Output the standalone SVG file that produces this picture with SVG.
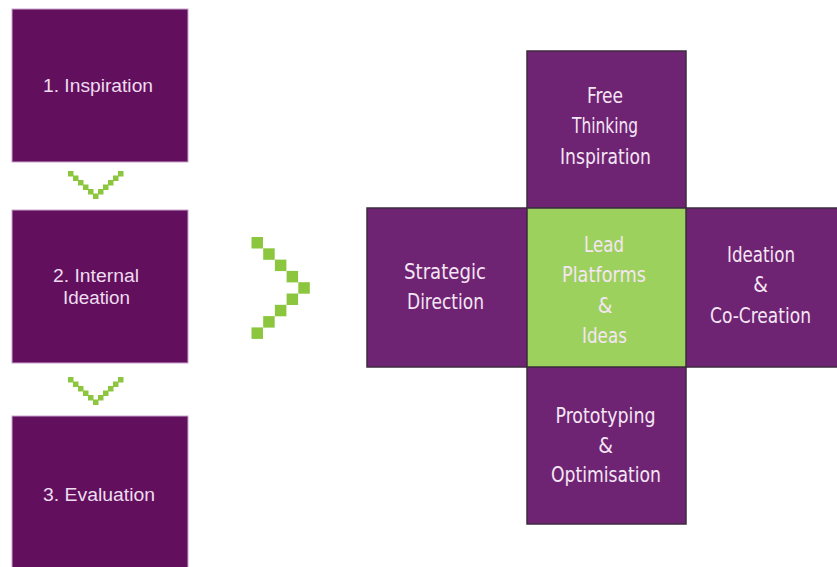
<svg xmlns="http://www.w3.org/2000/svg" xmlns:xlink="http://www.w3.org/1999/xlink" width="837" height="567" viewBox="0 0 837 567">
  <style>
    .step { fill: #62105e; stroke: #c9a3cc; stroke-width: 1; }
    .step-text { font-family: "Liberation Sans", Arial, sans-serif; font-size: 18px; fill: #eedcef; text-anchor: middle; }
    .face { fill: #6f2373; stroke: #3f2b40; stroke-width: 1.5; }
    .core { fill: #9dd15d; stroke: #3f2b40; stroke-width: 1.5; }
    .face-text { font-family: "Liberation Sans Narrow", "DejaVu Sans Condensed", "Liberation Sans", sans-serif; font-size: 21px; fill: #f4e6f4; text-anchor: middle; }
    .dot { fill: #8cc63e; }
  </style>
  <defs>
    <rect id="dot-s" class="dot" width="5.5" height="5.5"/>
    <rect id="dot-l" class="dot" width="11.5" height="11.5"/>
  </defs>

  <rect width="837" height="567" fill="#ffffff"/>

  <!-- Process steps -->
  <g id="step-inspiration">
    <rect class="step" x="12" y="9" width="176" height="153"/>
    <text class="step-text" x="98" y="92" textLength="110" lengthAdjust="spacingAndGlyphs">1. Inspiration</text>
  </g>
  <g id="step-internal-ideation">
    <rect class="step" x="12" y="210" width="176" height="153"/>
    <text class="step-text" x="96" y="282" textLength="86" lengthAdjust="spacingAndGlyphs">2. Internal</text>
    <text class="step-text" x="96.5" y="304" textLength="67" lengthAdjust="spacingAndGlyphs">Ideation</text>
  </g>
  <g id="step-evaluation">
    <rect class="step" x="12" y="416" width="176" height="160"/>
    <text class="step-text" x="99" y="501" textLength="112" lengthAdjust="spacingAndGlyphs">3. Evaluation</text>
  </g>

  <!-- Cross of faces around the core -->
  <g id="face-free-thinking">
    <rect class="face" x="527" y="51" width="159" height="157"/>
    <text class="face-text" x="605" y="102.5" textLength="36" lengthAdjust="spacingAndGlyphs">Free</text>
    <text class="face-text" x="605" y="133" textLength="66" lengthAdjust="spacingAndGlyphs">Thinking</text>
    <text class="face-text" x="605.5" y="164" textLength="91" lengthAdjust="spacingAndGlyphs">Inspiration</text>
  </g>
  <g id="face-strategic-direction">
    <rect class="face" x="367" y="208" width="160" height="159"/>
    <text class="face-text" x="445" y="279" textLength="82" lengthAdjust="spacingAndGlyphs">Strategic</text>
    <text class="face-text" x="445.5" y="309" textLength="77" lengthAdjust="spacingAndGlyphs">Direction</text>
  </g>
  <g id="face-ideation">
    <rect class="face" x="686" y="208" width="153" height="159"/>
    <text class="face-text" x="761" y="262" textLength="68" lengthAdjust="spacingAndGlyphs">Ideation</text>
    <text class="face-text" x="760.5" y="292">&amp;</text>
    <text class="face-text" x="760.5" y="323" textLength="101" lengthAdjust="spacingAndGlyphs">Co-Creation</text>
  </g>
  <g id="face-prototyping">
    <rect class="face" x="527" y="367" width="159" height="157"/>
    <text class="face-text" x="605.5" y="422.5" textLength="100" lengthAdjust="spacingAndGlyphs">Prototyping</text>
    <text class="face-text" x="605.5" y="452.5">&amp;</text>
    <text class="face-text" x="606" y="481.5" textLength="110" lengthAdjust="spacingAndGlyphs">Optimisation</text>
  </g>
  <g id="core-lead-platforms">
    <rect class="core" x="527" y="208" width="159" height="159"/>
    <text class="face-text" x="604" y="252" textLength="40" lengthAdjust="spacingAndGlyphs">Lead</text>
    <text class="face-text" x="604" y="282" textLength="84" lengthAdjust="spacingAndGlyphs">Platforms</text>
    <text class="face-text" x="605" y="312.5">&amp;</text>
    <text class="face-text" x="604.5" y="343" textLength="45" lengthAdjust="spacingAndGlyphs">Ideas</text>
  </g>

  <!-- Dotted chevron connectors -->
  <g id="connectors">
    <g id="chevron-1-2">
      <use xlink:href="#dot-s" x="68" y="171"/>
      <use xlink:href="#dot-s" x="73" y="175.5"/>
      <use xlink:href="#dot-s" x="78" y="180"/>
      <use xlink:href="#dot-s" x="83" y="184.5"/>
      <use xlink:href="#dot-s" x="88" y="189"/>
      <use xlink:href="#dot-s" x="93" y="193.5"/>
      <use xlink:href="#dot-s" x="98" y="189"/>
      <use xlink:href="#dot-s" x="103" y="184.5"/>
      <use xlink:href="#dot-s" x="108" y="180"/>
      <use xlink:href="#dot-s" x="113" y="175.5"/>
      <use xlink:href="#dot-s" x="118" y="171"/>
    </g>
    <g id="chevron-2-3" transform="translate(0,206)">
      <use xlink:href="#dot-s" x="68" y="171"/>
      <use xlink:href="#dot-s" x="73" y="175.5"/>
      <use xlink:href="#dot-s" x="78" y="180"/>
      <use xlink:href="#dot-s" x="83" y="184.5"/>
      <use xlink:href="#dot-s" x="88" y="189"/>
      <use xlink:href="#dot-s" x="93" y="193.5"/>
      <use xlink:href="#dot-s" x="98" y="189"/>
      <use xlink:href="#dot-s" x="103" y="184.5"/>
      <use xlink:href="#dot-s" x="108" y="180"/>
      <use xlink:href="#dot-s" x="113" y="175.5"/>
      <use xlink:href="#dot-s" x="118" y="171"/>
    </g>
    <g id="chevron-steps-cross">
      <use xlink:href="#dot-l" x="251.5" y="237"/>
      <use xlink:href="#dot-l" x="263.2" y="248.3"/>
      <use xlink:href="#dot-l" x="274.9" y="259.6"/>
      <use xlink:href="#dot-l" x="286.6" y="270.9"/>
      <use xlink:href="#dot-l" x="298.3" y="282.2"/>
      <use xlink:href="#dot-l" x="286.6" y="293.5"/>
      <use xlink:href="#dot-l" x="274.9" y="304.8"/>
      <use xlink:href="#dot-l" x="263.2" y="316.1"/>
      <use xlink:href="#dot-l" x="251.5" y="327.4"/>
    </g>
  </g>
</svg>
